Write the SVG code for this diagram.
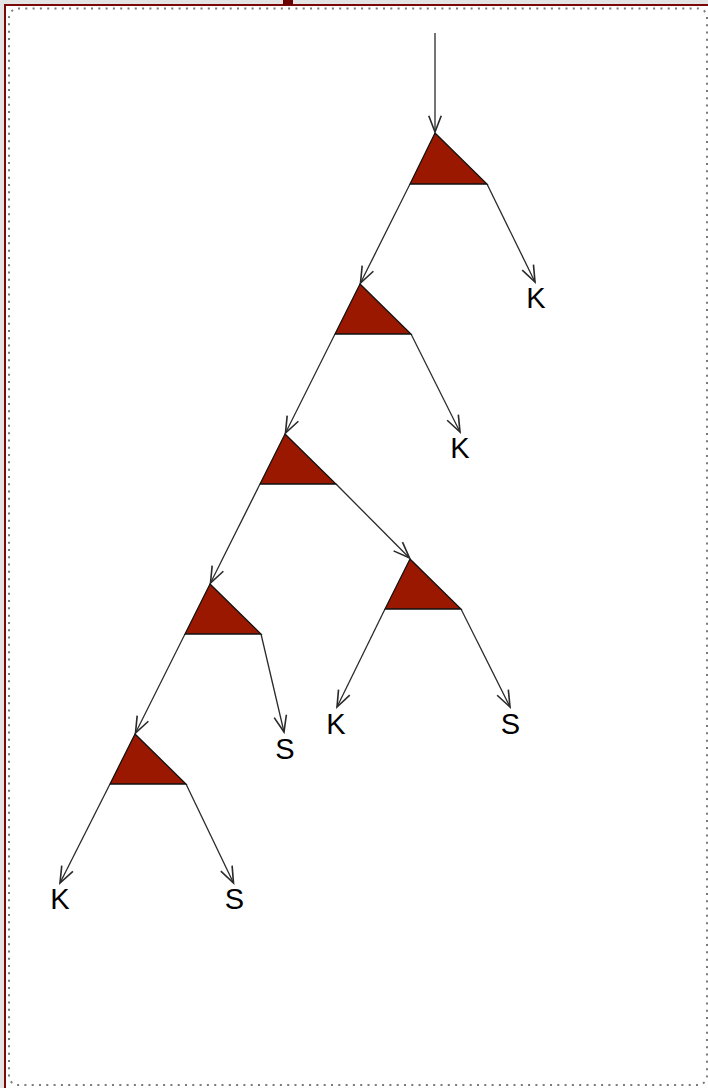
<svg xmlns="http://www.w3.org/2000/svg" width="708" height="1088" viewBox="0 0 708 1088">
<style>
.tri{fill:#9b1800;stroke:#111;stroke-width:1.3;stroke-linejoin:miter}
.edge{fill:none;stroke:#2a2a2a;stroke-width:1.3}
.lbl{font-family:"Liberation Sans",Arial,sans-serif;font-size:29px;fill:#000;text-anchor:middle}
</style>
<defs>
<marker id="arr" markerUnits="userSpaceOnUse" markerWidth="20" markerHeight="20" viewBox="-14 -7 16 14" refX="0" refY="0" orient="auto">
<path d="M-13,-5 L0,0 L-13,5" fill="none" stroke="#2a2a2a" stroke-width="1.3"/>
</marker>
</defs>
<rect x="0" y="0" width="708" height="1088" fill="#e4e4e4"/>
<rect x="5" y="5" width="710" height="1090" fill="#fff" stroke="#7a0a0a" stroke-width="2"/>
<rect x="283" y="0" width="10" height="5" fill="#6a0000"/>
<rect x="9" y="8.5" width="698" height="1076.5" rx="9" ry="9" fill="none" stroke="#7a7a7a" stroke-width="2" stroke-dasharray="2 5.3"/>
<g id="connectors">
<line class="edge" x1="435" y1="33" x2="435" y2="132" marker-end="url(#arr)"/>
<line class="edge" x1="410" y1="184" x2="360.5" y2="283" marker-end="url(#arr)"/>
<line class="edge" x1="487" y1="184" x2="535" y2="282" marker-end="url(#arr)"/>
<line class="edge" x1="335" y1="334" x2="285.5" y2="433" marker-end="url(#arr)"/>
<line class="edge" x1="411" y1="334" x2="460" y2="432" marker-end="url(#arr)"/>
<line class="edge" x1="260" y1="484" x2="210.5" y2="583" marker-end="url(#arr)"/>
<line class="edge" x1="336" y1="484" x2="409.5" y2="558" marker-end="url(#arr)"/>
<line class="edge" x1="185" y1="634" x2="135.5" y2="733" marker-end="url(#arr)"/>
<line class="edge" x1="261" y1="634" x2="284" y2="732" marker-end="url(#arr)"/>
<line class="edge" x1="110" y1="784" x2="60" y2="883" marker-end="url(#arr)"/>
<line class="edge" x1="186" y1="784" x2="233.5" y2="883" marker-end="url(#arr)"/>
<line class="edge" x1="385" y1="609" x2="337" y2="707" marker-end="url(#arr)"/>
<line class="edge" x1="461" y1="609" x2="510" y2="707" marker-end="url(#arr)"/>
</g>
<g id="n1"><polygon class="tri" points="435,133 487,184 410,184"/></g>
<g id="n2"><polygon class="tri" points="360,284 411,334 335,334"/></g>
<g id="n3"><polygon class="tri" points="285,434 336,484 260,484"/></g>
<g id="n4"><polygon class="tri" points="210,584 261,634 185,634"/></g>
<g id="n5"><polygon class="tri" points="135,734 186,784 110,784"/></g>
<g id="n6"><polygon class="tri" points="410,559 461,609 385,609"/></g>
<g id="k1"><text class="lbl" x="536" y="308">K</text></g>
<g id="k2"><text class="lbl" x="460" y="458">K</text></g>
<g id="s4"><text class="lbl" x="285" y="759">S</text></g>
<g id="k6"><text class="lbl" x="336" y="734">K</text></g>
<g id="s6"><text class="lbl" x="510.5" y="734">S</text></g>
<g id="k5"><text class="lbl" x="60" y="909">K</text></g>
<g id="s5"><text class="lbl" x="234.5" y="909">S</text></g>
</svg>
